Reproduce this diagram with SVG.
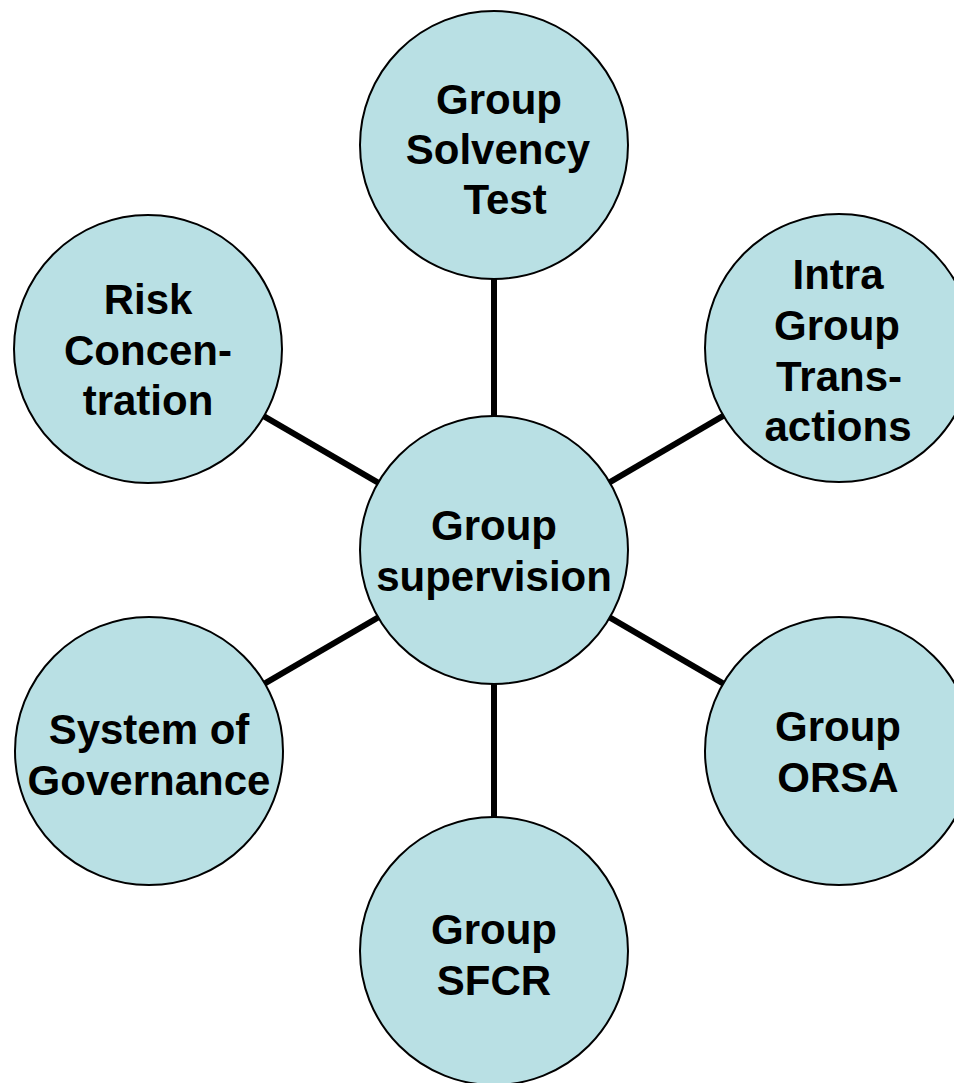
<svg xmlns="http://www.w3.org/2000/svg" width="954" height="1083" viewBox="0 0 954 1083">
<style>
.node circle{fill:#b9e0e4;stroke:#000;stroke-width:2}
.node text{font-family:"Liberation Sans",Arial,sans-serif;font-weight:bold;font-size:42px;fill:#000;text-anchor:middle}
.conn line{stroke:#000;stroke-width:6}
</style>
<rect width="954" height="1083" fill="#fff"/>
<g id="connectors" class="conn">
<line x1="494" y1="550" x2="494" y2="145"/>
<line x1="494" y1="550" x2="148" y2="349"/>
<line x1="494" y1="550" x2="839" y2="348"/>
<line x1="494" y1="550" x2="149" y2="751"/>
<line x1="494" y1="550" x2="839" y2="751"/>
<line x1="494" y1="550" x2="494" y2="951"/>
</g>
<g id="node-center" class="node">
<circle cx="494" cy="550" r="134"/>
<text x="494" y="540">Group</text>
<text x="494" y="591">supervision</text>
</g>
<g id="node-solvency" class="node">
<circle cx="494" cy="145" r="134"/>
<text x="499" y="114">Group</text>
<text x="498" y="164">Solvency</text>
<text x="505" y="214">Test</text>
</g>
<g id="node-risk" class="node">
<circle cx="148" cy="349" r="134"/>
<text x="148" y="314">Risk</text>
<text x="148" y="365">Concen-</text>
<text x="148" y="415">tration</text>
</g>
<g id="node-intra" class="node">
<circle cx="839" cy="348" r="134"/>
<text x="838" y="289">Intra</text>
<text x="837" y="340">Group</text>
<text x="839" y="391">Trans-</text>
<text x="838" y="441">actions</text>
</g>
<g id="node-governance" class="node">
<circle cx="149" cy="751" r="134"/>
<text x="149" y="744">System of</text>
<text x="149" y="795">Governance</text>
</g>
<g id="node-orsa" class="node">
<circle cx="839" cy="751" r="134"/>
<text x="838" y="741">Group</text>
<text x="838" y="792">ORSA</text>
</g>
<g id="node-sfcr" class="node">
<circle cx="494" cy="951" r="134"/>
<text x="494" y="944">Group</text>
<text x="494" y="995">SFCR</text>
</g>
</svg>
